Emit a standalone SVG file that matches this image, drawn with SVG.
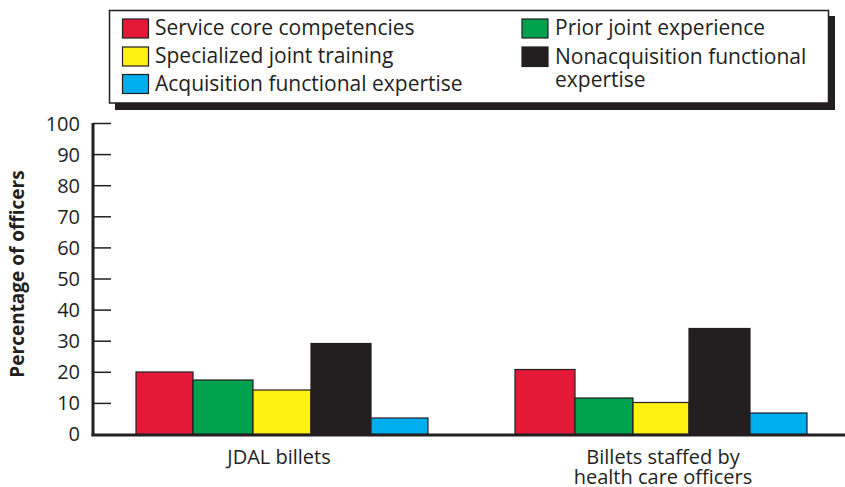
<svg xmlns="http://www.w3.org/2000/svg" width="845" height="487" viewBox="0 0 845 487">
<style>
text{font-family:"Open Sans","Noto Sans","Liberation Sans",sans-serif;fill:#231f20}
.lg{font-size:21px}
.tk{font-size:20px;text-anchor:end}
.cat{font-size:20px;text-anchor:middle}
.bar{stroke:#231f20;stroke-width:1.2}
.r{fill:#e31937}.g{fill:#00a14f}.y{fill:#fff212}.k{fill:#231f20}.b{fill:#00aeef}
.tick{stroke:#231f20;stroke-width:1.5}
</style>
<rect width="845" height="487" fill="#fff"/>
<g id="legend">
<rect x="115" y="16" width="720" height="94" fill="#231f20"/>
<rect x="109.5" y="10.5" width="719" height="92.5" fill="#fff" stroke="#231f20" stroke-width="1.5"/>
<rect class="bar r" x="122.5" y="19" width="26" height="19"/>
<text class="lg" x="155" y="35">Service core competencies</text>
<rect class="bar y" x="122.5" y="47" width="26" height="19"/>
<text class="lg" x="155" y="63">Specialized joint training</text>
<rect class="bar b" x="122.5" y="74.5" width="26" height="19"/>
<text class="lg" x="155" y="90.5">Acquisition functional expertise</text>
<rect class="bar g" x="522" y="19" width="26" height="19"/>
<text class="lg" x="555" y="35">Prior joint experience</text>
<rect class="bar k" x="522" y="47" width="26" height="19.5"/>
<text class="lg" x="555" y="64">Nonacquisition functional</text>
<text class="lg" x="555" y="87">expertise</text>
</g>
<g id="axis">
<line x1="93" y1="123" x2="93" y2="436" stroke="#231f20" stroke-width="3"/>
<line x1="91.5" y1="435" x2="845" y2="435" stroke="#231f20" stroke-width="3"/>
<g class="tick">
<line x1="93" y1="123.5" x2="111" y2="123.5"/>
<line x1="93" y1="154.6" x2="111" y2="154.6"/>
<line x1="93" y1="185.7" x2="111" y2="185.7"/>
<line x1="93" y1="216.8" x2="111" y2="216.8"/>
<line x1="93" y1="247.9" x2="111" y2="247.9"/>
<line x1="93" y1="279" x2="111" y2="279"/>
<line x1="93" y1="310.1" x2="111" y2="310.1"/>
<line x1="93" y1="341.2" x2="111" y2="341.2"/>
<line x1="93" y1="372.3" x2="111" y2="372.3"/>
<line x1="93" y1="403.4" x2="111" y2="403.4"/>
</g>
<text class="tk" x="80" y="130.5">100</text>
<text class="tk" x="80" y="161.5">90</text>
<text class="tk" x="80" y="192.5">80</text>
<text class="tk" x="80" y="223.5">70</text>
<text class="tk" x="80" y="254.5">60</text>
<text class="tk" x="80" y="285.5">50</text>
<text class="tk" x="80" y="316.5">40</text>
<text class="tk" x="80" y="347.5">30</text>
<text class="tk" x="80" y="378.5">20</text>
<text class="tk" x="80" y="409.5">10</text>
<text class="tk" x="80" y="440.5">0</text>
<text x="0" y="0" transform="translate(24,274) rotate(-90)" text-anchor="middle" style="font-size:19px;font-weight:bold">Percentage of officers</text>
</g>
<g id="jdal">
<rect class="bar r" x="136" y="372" width="57" height="62"/>
<rect class="bar g" x="193" y="380" width="60" height="54"/>
<rect class="bar y" x="253" y="390" width="58" height="44"/>
<rect class="bar k" x="311" y="343.5" width="60" height="90.5"/>
<rect class="bar b" x="371" y="418" width="57" height="16"/>
<text class="cat" x="279" y="464">JDAL billets</text>
</g>
<g id="health">
<rect class="bar r" x="515" y="369.5" width="60" height="64.5"/>
<rect class="bar g" x="575" y="398" width="58" height="36"/>
<rect class="bar y" x="633" y="402.5" width="56" height="31.5"/>
<rect class="bar k" x="689" y="328.5" width="61" height="105.5"/>
<rect class="bar b" x="750" y="413" width="57" height="21"/>
<text class="cat" x="663" y="464">Billets staffed by</text>
<text class="cat" x="663" y="484">health care officers</text>
</g>
</svg>
